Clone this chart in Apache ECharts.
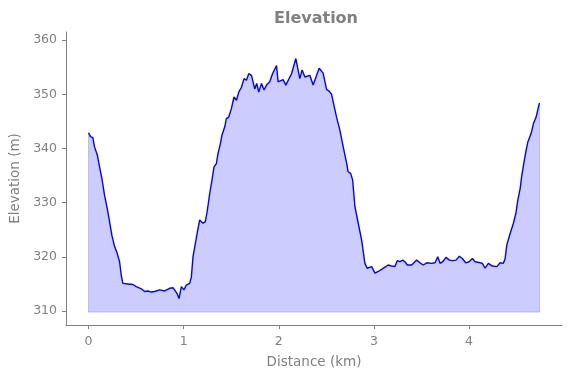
<!DOCTYPE html>
<html>
<head>
<meta charset="utf-8">
<title>Elevation</title>
<script src="https://cdn.jsdelivr.net/npm/echarts@6/dist/echarts.min.js"></script>
<style>
  html, body { margin: 0; padding: 0; background: #fff; }
  #chart { width: 571px; height: 378px; }
</style>
</head>
<body>
<div id="chart"></div>
<script>
// distance along the route (km)
const distance = [
  0.000, 0.021, 0.045, 0.063, 0.092, 0.116, 0.140, 0.168, 0.197, 0.221,
  0.245, 0.274, 0.302, 0.326, 0.344, 0.361, 0.379, 0.414, 0.466, 0.502,
  0.555, 0.589, 0.624, 0.660, 0.695, 0.747, 0.800, 0.853, 0.887, 0.905,
  0.934, 0.951, 0.976, 1.003, 1.028, 1.063, 1.081, 1.098, 1.123, 1.144,
  1.168, 1.203, 1.228, 1.249, 1.274, 1.298, 1.319, 1.344, 1.361, 1.386,
  1.403, 1.432, 1.449, 1.474, 1.502, 1.529, 1.555, 1.579, 1.607, 1.635,
  1.660, 1.684, 1.713, 1.734, 1.747, 1.768, 1.789, 1.818, 1.845, 1.871,
  1.905, 1.934, 1.976, 1.993, 2.045, 2.074, 2.134, 2.179, 2.221, 2.245,
  2.274, 2.326, 2.361, 2.424, 2.466, 2.502, 2.529, 2.555, 2.572, 2.607,
  2.642, 2.677, 2.713, 2.729, 2.755, 2.776, 2.800, 2.835, 2.871, 2.905,
  2.929, 2.976, 3.011, 3.045, 3.081, 3.116, 3.151, 3.186, 3.221, 3.245,
  3.274, 3.302, 3.326, 3.351, 3.397, 3.449, 3.484, 3.519, 3.555, 3.607,
  3.642, 3.671, 3.695, 3.723, 3.758, 3.793, 3.828, 3.863, 3.898, 3.929,
  3.965, 4.000, 4.035, 4.063, 4.116, 4.140, 4.168, 4.203, 4.245, 4.292,
  4.326, 4.361, 4.379, 4.397, 4.432, 4.466, 4.492, 4.513, 4.537, 4.555,
  4.572, 4.597, 4.618, 4.653, 4.677, 4.705, 4.726, 4.740
];

// elevation (m)
const elevation = [
  342.9, 342.2, 342.0, 340.3, 338.8, 336.6, 334.5, 331.4, 328.9, 326.5,
  324.0, 321.9, 320.6, 319.1, 316.6, 315.1, 314.8, 315.0, 314.9, 314.5,
  314.1, 313.6, 313.7, 313.5, 313.6, 313.9, 313.7, 314.2, 314.3, 313.9,
  313.1, 312.3, 314.5, 313.9, 314.8, 315.1, 316.3, 320.0, 322.5, 324.6,
  326.8, 326.2, 326.5, 328.6, 331.7, 334.2, 336.6, 337.2, 339.1, 340.9,
  342.5, 344.0, 345.5, 345.8, 347.4, 349.5, 348.9, 350.4, 351.3, 352.9,
  352.6, 353.8, 353.5, 353.2, 351.0, 352.0, 350.4, 352.0, 350.8, 351.7,
  352.3, 353.8, 355.3, 352.3, 352.7, 351.7, 353.8, 356.6, 352.9, 354.5,
  353.2, 353.5, 351.7, 354.8, 353.9, 350.9, 350.6, 350.0, 349.7, 345.8,
  343.4, 340.3, 337.3, 335.7, 335.4, 334.2, 329.3, 326.2, 323.1, 318.8,
  317.9, 318.2, 317.0, 317.3, 317.7, 318.1, 318.5, 318.3, 318.2, 319.3,
  319.1, 319.4, 319.1, 318.5, 318.5, 319.4, 318.9, 318.5, 318.9, 318.8,
  318.9, 320.0, 318.8, 319.1, 319.9, 319.4, 319.3, 319.4, 320.1, 319.7,
  318.9, 319.1, 319.7, 319.1, 318.9, 318.8, 317.9, 318.8, 318.3, 318.2,
  318.9, 318.8, 319.7, 322.2, 324.3, 326.2, 328.0, 330.5, 332.6, 335.1,
  336.9, 339.4, 341.2, 342.8, 344.6, 345.8, 347.4, 348.4
];

const baseline = 309.8;            // bottom of the filled area
const xTicks = [0, 1, 2, 3, 4];
const yTicks = [310, 320, 330, 340, 350, 360];

const gray = '#808080';
const font = 'DejaVu Sans';

const profile = distance.map((d, i) => [d, elevation[i]]);
const last = distance.length - 1;
// faint edge round the fill, like the reference
const fillEdge = [
  [distance[0], elevation[0]],
  [distance[0], baseline],
  [distance[last], baseline],
  [distance[last], elevation[last]],
];

const chart = echarts.init(document.getElementById('chart'), null, { renderer: 'canvas' });

const option = {
  animation: false,
  backgroundColor: '#fff',
  title: {
    text: 'Elevation',
    left: 311,
    textAlign: 'center',
    top: 6,
    textStyle: { color: gray, fontFamily: font, fontWeight: 'bold', fontSize: 16 },
  },
  grid: {
    left: 66,
    right: 9,
    top: 32,
    bottom: 53,
    containLabel: false,
    outerBoundsMode: 'none',
  },
  xAxis: {
    type: 'value',
    min: -0.237,
    max: 4.977,
    name: 'Distance (km)',
    nameLocation: 'middle',
    nameGap: 30,
    nameTextStyle: { color: gray, fontFamily: font, fontSize: 13.5 },
    axisLine: { show: true, onZero: false, lineStyle: { color: gray, width: 1 } },
    axisTick: { show: true, length: 4, customValues: xTicks, lineStyle: { color: gray } },
    axisLabel: { color: gray, fontFamily: font, fontSize: 12.5, margin: 10, customValues: xTicks },
    splitLine: { show: false },
  },
  yAxis: {
    type: 'value',
    min: 307.42,
    max: 361.5,
    name: 'Elevation (m)',
    nameLocation: 'middle',
    nameGap: 40,
    nameTextStyle: { color: gray, fontFamily: font, fontSize: 13.5 },
    axisLine: { show: true, onZero: false, lineStyle: { color: gray, width: 1 } },
    axisTick: { show: true, length: 4, customValues: yTicks, lineStyle: { color: gray } },
    axisLabel: { color: gray, fontFamily: font, fontSize: 12.5, margin: 9, customValues: yTicks },
    splitLine: { show: false },
  },
  series: [
    {
      type: 'line',
      data: fillEdge,
      symbol: 'none',
      silent: true,
      lineStyle: { color: 'rgba(0, 0, 255, 0.2)', width: 1 },
      z: 1,
    },
    {
      type: 'line',
      data: profile,
      symbol: 'none',
      lineStyle: { color: '#0000ff', width: 1.4 },
      areaStyle: { color: 'rgba(0, 0, 255, 0.2)', opacity: 1, origin: baseline },
      z: 2,
    },
  ],
};

chart.setOption(option);
</script>
</body>
</html>
